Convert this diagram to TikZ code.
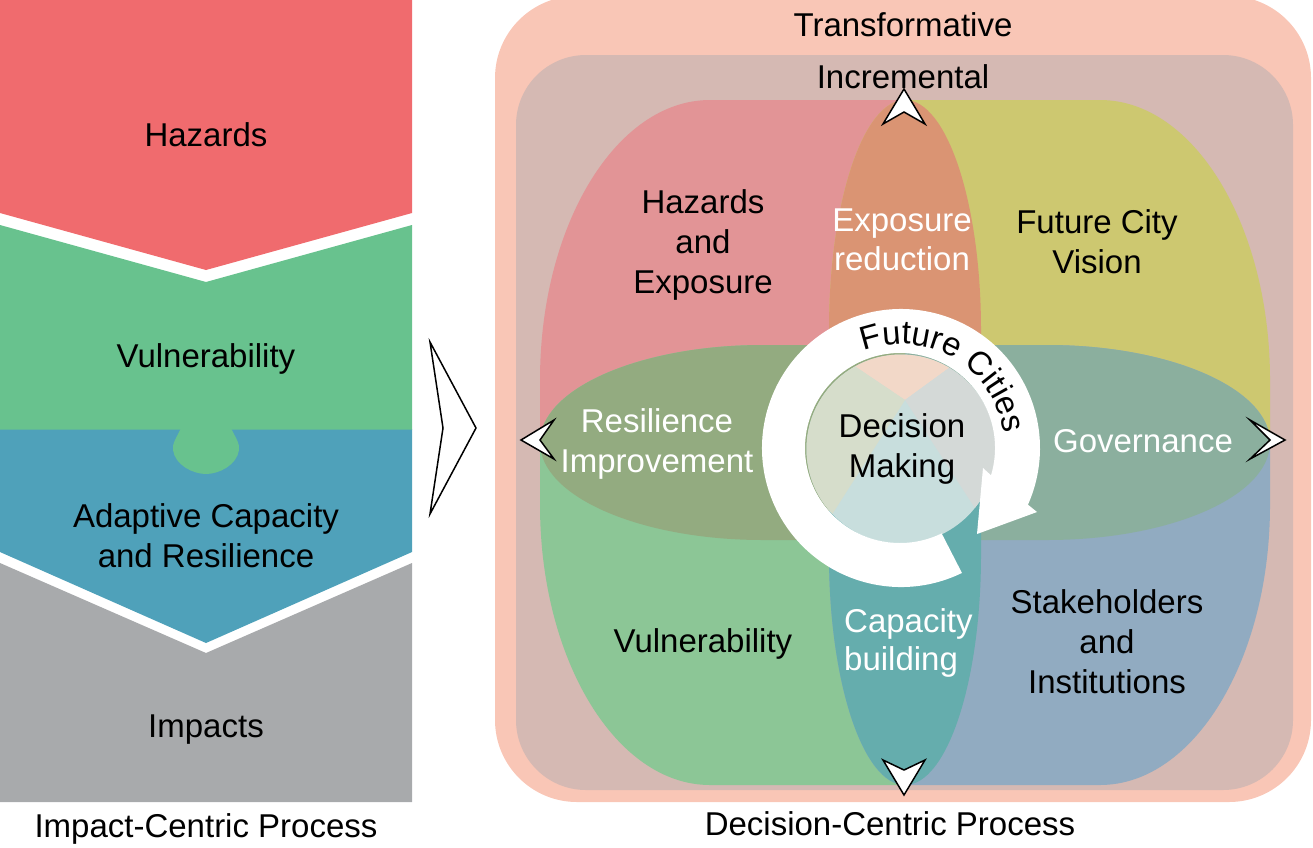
\documentclass[tikz,border=0pt]{standalone}
\usepackage{fontspec}
\setmainfont{Liberation Sans}
\usetikzlibrary{decorations.text}
\definecolor{cHaz}{RGB}{240,107,110}
\definecolor{cVul}{RGB}{104,194,142}
\definecolor{cAda}{RGB}{79,161,186}
\definecolor{cImp}{RGB}{168,170,172}
\definecolor{cTrans}{RGB}{249,198,182}
\definecolor{cIncr}{RGB}{213,185,179}
\definecolor{cPink}{RGB}{226,148,150}
\definecolor{cYel}{RGB}{205,200,112}
\definecolor{cGrn}{RGB}{140,198,150}
\definecolor{cBlu}{RGB}{145,171,193}
\definecolor{cOra}{RGB}{218,148,115}
\definecolor{cRes}{RGB}{147,171,128}
\definecolor{cGov}{RGB}{139,175,158}
\definecolor{cTea}{RGB}{101,173,173}
\definecolor{dTop}{RGB}{242,216,200}
\definecolor{dLeft}{RGB}{214,221,203}
\definecolor{dRight}{RGB}{212,217,215}
\definecolor{dBot}{RGB}{200,222,221}
\newcommand{\lblfont}{\fontsize{33}{40}\selectfont}
\tikzset{
  lbl/.style={font=\lblfont, inner sep=0pt, anchor=base},
  wlbl/.style={lbl, text=white},
  tipshape/.style={fill=white, draw=black, line width=1.5pt, line join=miter},
}
\begin{document}
\begin{tikzpicture}[x=1pt,y=-1pt]
\useasboundingbox (0,0) rectangle (1313,847);
\begin{scope}
\clip (0,0) rectangle (1313,847);
% ---------- left column ----------
\fill[cHaz] (0,0) -- (412,0) -- (412,213) -- (206,270) -- (0,213) -- cycle;
\fill[cAda] (0,429) -- (412,429) -- (412,552) -- (206,643) -- (0,552) -- cycle;
\fill[cVul] (0,225) -- (206,282) -- (412,225) -- (412,429.5) -- (0,429.5) -- cycle;
\fill[cVul] (181,428) .. controls (177,437) and (172,443) .. (173,450)
  .. controls (175,465) and (193,474) .. (206,474)
  .. controls (219,474) and (237,465) .. (239,450)
  .. controls (240,443) and (235,437) .. (231,428) -- cycle;
\fill[cImp] (0,563) -- (206,653) -- (412,563) -- (412,802) -- (0,802) -- cycle;
% ---------- big chevron ----------
\draw[tipshape] (430,342) -- (476,428) -- (430,514) -- (443,428) -- cycle;
% ---------- right panel frames ----------
\fill[cTrans, rounded corners=82pt] (495,-4) rectangle (1311,802);
\fill[cIncr, rounded corners=70pt] (516,55) rectangle (1293,790);
% ---------- petals ----------
\fill[cPink] (540,442.5) -- (540,380) arc[start angle=180, end angle=270, x radius=170, y radius=280]
  -- (905,100) arc[start angle=270, end angle=360, x radius=76, y radius=230]
  -- (981,540) -- (763,540) arc[start angle=90, end angle=180, x radius=223, y radius=97.5] -- cycle;
\fill[cYel] (1270,442.5) -- (1270,380) arc[start angle=0, end angle=-90, x radius=170, y radius=280]
  -- (905,100) arc[start angle=270, end angle=180, x radius=76, y radius=230]
  -- (829,540) -- (1047,540) arc[start angle=90, end angle=0, x radius=223, y radius=97.5] -- cycle;
\fill[cGrn] (540,442.5) -- (540,505) arc[start angle=180, end angle=90, x radius=170, y radius=280]
  -- (905,785) arc[start angle=90, end angle=0, x radius=76, y radius=230]
  -- (981,345) -- (763,345) arc[start angle=270, end angle=180, x radius=223, y radius=97.5] -- cycle;
\fill[cBlu] (1270,442.5) -- (1270,505) arc[start angle=0, end angle=90, x radius=170, y radius=280]
  -- (905,785) arc[start angle=90, end angle=180, x radius=76, y radius=230]
  -- (829,345) -- (1047,345) arc[start angle=270, end angle=360, x radius=223, y radius=97.5] -- cycle;
% ---------- lenses ----------
\fill[cOra] (905,100) arc[start angle=270, end angle=360, x radius=76, y radius=230]
  -- (981,442.5) -- (829,442.5) -- (829,330) arc[start angle=180, end angle=270, x radius=76, y radius=230] -- cycle;
\fill[cRes] (540,442.5) arc[start angle=180, end angle=270, x radius=223, y radius=97.5]
  -- (905,345) -- (905,540) -- (763,540) arc[start angle=90, end angle=180, x radius=223, y radius=97.5] -- cycle;
\fill[cGov] (1270,442.5) arc[start angle=0, end angle=-90, x radius=223, y radius=97.5]
  -- (905,345) -- (905,540) -- (1047,540) arc[start angle=90, end angle=0, x radius=223, y radius=97.5] -- cycle;
\fill[cTea] (905,785) arc[start angle=90, end angle=0, x radius=76, y radius=230]
  -- (981,442.5) -- (829,442.5) -- (829,555) arc[start angle=180, end angle=90, x radius=76, y radius=230] -- cycle;
% ---------- decision disc ----------
\begin{scope}
  \clip (901,449) circle[radius=94.5];
  \fill[dBot] (800,340) rectangle (1010,560);
  \fill[dTop] (905,400) -- (749,295) -- (1049,295) -- cycle;
  \fill[dLeft] (905,400) -- (749,295) -- (700,295) -- (700,626) -- (761,626) -- cycle;
  \fill[dRight] (905,400) -- (1049,295) -- (1100,295) -- (1100,640) -- (1059,638) -- cycle;
\end{scope}
% ---------- ring arrow ----------
\fill[white] (901,448) ++(64:139) arc[start angle=64, end angle=384.05, radius=139]
  -- (1037,512) -- (977,534) -- (983,468) -- (991,475.3)
  arc[start angle=376.7, end angle=64, radius=95] -- cycle;
\path[decorate, decoration={text along path, text={|\lblfont|Future Cities}, text align={left indent=0pt}}]
  (901,448) ++(-111:104) arc[start angle=-111, end angle=0, radius=104];
% ---------- small arrowheads ----------
\draw[tipshape] (904,89) -- (925,124) -- (904,112) -- (883,124) -- cycle;
\draw[tipshape] (904,795) -- (925,760) -- (904,770) -- (883,760) -- cycle;
\draw[tipshape] (521,440) -- (554,420) -- (540,440) -- (554,459) -- cycle;
\draw[tipshape] (1285,440) -- (1250,420) -- (1270,440) -- (1250,459) -- cycle;
\end{scope}
% ---------- labels, left ----------
\node[lbl] (hz) at (206,146) {Hazards};
\node[lbl] (vu) at (206,367) {Vulnerability};
\node[lbl] (ada) at (206,527) {Adaptive Capacity};
\node[lbl] (adb) at (206,567) {and Resilience};
\node[lbl] (im) at (206,737) {Impacts};
\node[lbl] (icp) at (206,837) {Impact-Centric Process};
% ---------- labels, right ----------
\node[lbl] (tr) at (903,36) {Transformative};
\node[lbl] (inc) at (903,88) {Incremental};
\node[lbl] (hea) at (703,213) {Hazards};
\node[lbl] (heb) at (703,253) {and};
\node[lbl] (hec) at (703,293) {Exposure};
\node[wlbl] (era) at (902,231) {Exposure};
\node[wlbl] (erb) at (902,270) {reduction};
\node[lbl] (fca) at (1097,233) {Future City};
\node[lbl] (fcb) at (1097,273) {Vision};
\node[wlbl] (ria) at (657,432) {Resilience};
\node[wlbl] (rib) at (657,472) {Improvement};
\node[lbl] (dma) at (902,437) {Decision};
\node[lbl] (dmb) at (902,477) {Making};
\node[wlbl] (gov) at (1143,452) {Governance};
\node[lbl] (vr) at (703,652) {Vulnerability};
\node[wlbl, anchor=base west] (cba) at (844,632) {Capacity};
\node[wlbl, anchor=base west] (cbb) at (844,670) {building};
\node[lbl] (sia) at (1107,613) {Stakeholders};
\node[lbl] (sib) at (1107,653) {and};
\node[lbl] (sic) at (1107,693) {Institutions};
\node[lbl] (dcp) at (890,835) {Decision-Centric Process};
\end{tikzpicture}
\end{document}
